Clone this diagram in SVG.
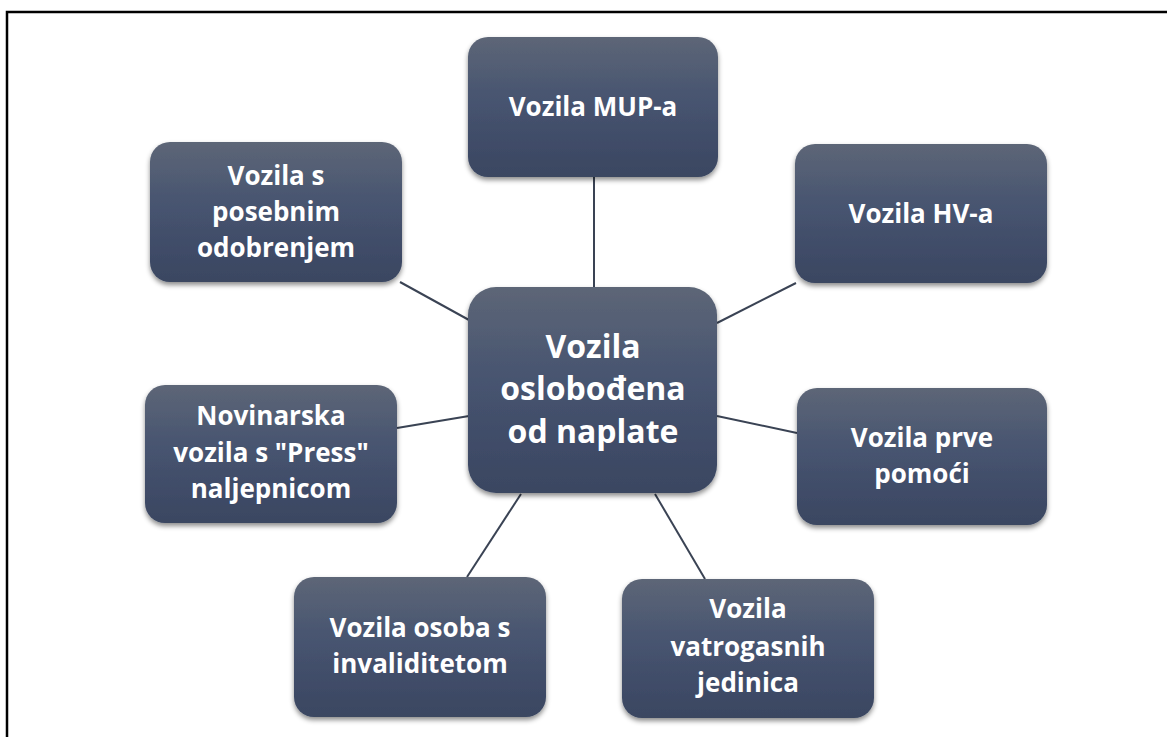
<svg xmlns="http://www.w3.org/2000/svg" width="1167" height="737" viewBox="0 0 1167 737">
<defs>
<linearGradient id="g" x1="0" y1="0" x2="0" y2="1">
<stop offset="0" stop-color="#5d6677"/>
<stop offset="0.45" stop-color="#475470"/>
<stop offset="1" stop-color="#3a4661"/>
</linearGradient>
<filter id="sh" x="-10%" y="-10%" width="120%" height="130%">
<feDropShadow dx="0" dy="3" stdDeviation="2.5" flood-color="#000" flood-opacity="0.45"/>
</filter>
<style>
.box{fill:url(#g);filter:url(#sh);}
.t{font-family:"Open Sans","DejaVu Sans",sans-serif;font-weight:700;font-size:26px;fill:#ffffff;text-anchor:middle;}
.tc{font-size:32px;}
.c{stroke:#3a4354;stroke-width:2;fill:none;}
</style>
</defs>
<rect x="0" y="0" width="1167" height="737" fill="#ffffff"/>
<path d="M7,737 V12 H1167" fill="none" stroke="#000" stroke-width="2.5"/>
<g id="connectors">
<line class="c" x1="594" y1="177" x2="594" y2="287"/>
<line class="c" x1="400" y1="282" x2="469" y2="320"/>
<line class="c" x1="717" y1="323" x2="796" y2="283"/>
<line class="c" x1="397" y1="428" x2="469" y2="416"/>
<line class="c" x1="717" y1="416" x2="797" y2="433"/>
<line class="c" x1="467" y1="577" x2="521" y2="494"/>
<line class="c" x1="705" y1="579" x2="655" y2="494"/>
</g>
<g id="center">
<rect class="box" x="468" y="287" width="249" height="206" rx="28"/>
<text class="t tc" x="593" y="358">Vozila</text>
<text class="t tc" x="593" y="400">oslobođena</text>
<text class="t tc" x="593" y="443">od naplate</text>
</g>
<g id="mup">
<rect class="box" x="468" y="37" width="250" height="140" rx="20"/>
<text class="t" x="593" y="116">Vozila MUP-a</text>
</g>
<g id="hv">
<rect class="box" x="795" y="144" width="252" height="139" rx="20"/>
<text class="t" x="921" y="223">Vozila HV-a</text>
</g>
<g id="posebnim">
<rect class="box" x="150" y="142" width="252" height="140" rx="20"/>
<text class="t" x="276" y="185">Vozila s</text>
<text class="t" x="276" y="221">posebnim</text>
<text class="t" x="276" y="257">odobrenjem</text>
</g>
<g id="novinarska">
<rect class="box" x="145" y="385" width="252" height="138" rx="20"/>
<text class="t" x="271" y="425">Novinarska</text>
<text class="t" x="271" y="462">vozila s "Press"</text>
<text class="t" x="271" y="498">naljepnicom</text>
</g>
<g id="prve">
<rect class="box" x="797" y="388" width="250" height="137" rx="20"/>
<text class="t" x="922" y="447">Vozila prve</text>
<text class="t" x="922" y="483">pomoći</text>
</g>
<g id="invaliditetom">
<rect class="box" x="294" y="577" width="252" height="140" rx="20"/>
<text class="t" x="420" y="637">Vozila osoba s</text>
<text class="t" x="420" y="673">invaliditetom</text>
</g>
<g id="vatrogasnih">
<rect class="box" x="622" y="579" width="252" height="139" rx="20"/>
<text class="t" x="748" y="618">Vozila</text>
<text class="t" x="748" y="656">vatrogasnih</text>
<text class="t" x="748" y="692">jedinica</text>
</g>
</svg>
